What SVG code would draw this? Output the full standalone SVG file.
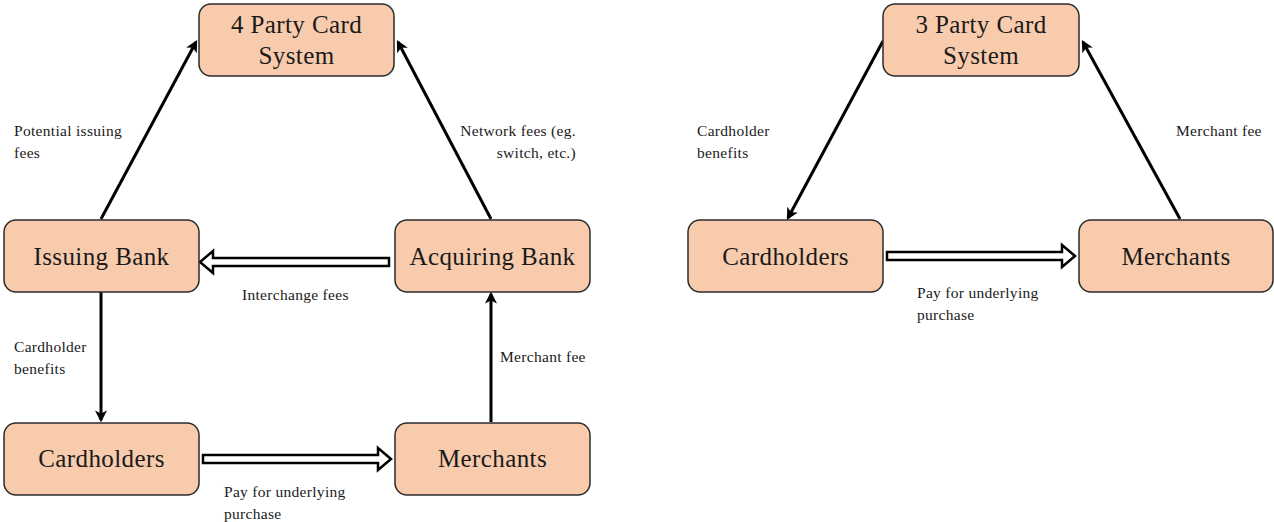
<svg xmlns="http://www.w3.org/2000/svg" width="1274" height="522" viewBox="0 0 1274 522">
<defs>
<style>
.node rect{fill:#F8CBAD;stroke:#2b2b2b;stroke-width:1.5}
.node text{font-family:"Liberation Serif","DejaVu Serif",serif;font-size:25px;letter-spacing:0.4px;fill:#1a1a1a;text-anchor:middle}
.lbl{font-family:"Liberation Serif","DejaVu Serif",serif;font-size:15.5px;letter-spacing:0.3px;fill:#1a1a1a}
.line{stroke:#000;stroke-width:3;fill:none;marker-end:url(#ah)}
.block{fill:#fff;stroke:#000;stroke-width:2.5;stroke-linejoin:miter}
</style>
<marker id="ah" markerWidth="4" markerHeight="4" refX="3.2" refY="2" orient="auto" markerUnits="strokeWidth">
<path d="M0,0 L4,2 L0,4 L1,2 Z" fill="#000"/>
</marker>
</defs>
<rect width="1274" height="522" fill="#fff"/>
<g id="connectors">
<line class="line" x1="101" y1="219" x2="196" y2="42"/>
<line class="line" x1="491" y1="219" x2="398" y2="42"/>
<line class="line" x1="101" y1="292" x2="101" y2="420"/>
<line class="line" x1="491" y1="422" x2="491" y2="294"/>
<path class="block" d="M389,258 L213,258 L213,251 L200,262 L213,273 L213,266 L389,266 Z"/>
<path class="block" d="M203,455 L378,455 L378,448 L391,459 L378,470 L378,463 L203,463 Z"/>
<line class="line" x1="883" y1="41" x2="788" y2="218"/>
<line class="line" x1="1180" y1="219" x2="1083" y2="42"/>
<path class="block" d="M887,252 L1062,252 L1062,245 L1075,256 L1062,267 L1062,260 L887,260 Z"/>
</g>
<g id="party4" class="node"><rect x="199" y="4" width="195" height="72" rx="12"/><text x="296.5" y="33">4 Party Card</text><text x="296.5" y="64">System</text></g>
<g id="issuing" class="node"><rect x="4" y="220" width="195" height="72" rx="12"/><text x="101.5" y="265">Issuing Bank</text></g>
<g id="acquiring" class="node"><rect x="395" y="220" width="195" height="72" rx="12"/><text x="492.5" y="265">Acquiring Bank</text></g>
<g id="cardholders4" class="node"><rect x="4" y="423" width="195" height="72" rx="12"/><text x="101.5" y="467">Cardholders</text></g>
<g id="merchants4" class="node"><rect x="395" y="423" width="195" height="72" rx="12"/><text x="492.5" y="467">Merchants</text></g>
<g id="party3" class="node"><rect x="883" y="4" width="196" height="72" rx="12"/><text x="981" y="33">3 Party Card</text><text x="981" y="64">System</text></g>
<g id="cardholders3" class="node"><rect x="688" y="220" width="195" height="72" rx="12"/><text x="785.5" y="265">Cardholders</text></g>
<g id="merchants3" class="node"><rect x="1079" y="220" width="194" height="72" rx="12"/><text x="1176" y="265">Merchants</text></g>
<g id="labels">
<text class="lbl" x="14" y="136">Potential issuing</text>
<text class="lbl" x="14" y="158">fees</text>
<text class="lbl" x="576" y="136" text-anchor="end">Network  fees (eg.</text>
<text class="lbl" x="576" y="158" text-anchor="end">switch, etc.)</text>
<text class="lbl" x="242" y="300">Interchange fees</text>
<text class="lbl" x="14" y="352">Cardholder</text>
<text class="lbl" x="14" y="374">benefits</text>
<text class="lbl" x="500" y="362">Merchant fee</text>
<text class="lbl" x="224" y="497">Pay for underlying</text>
<text class="lbl" x="224" y="519">purchase</text>
<text class="lbl" x="697" y="136">Cardholder</text>
<text class="lbl" x="697" y="158">benefits</text>
<text class="lbl" x="1176" y="136">Merchant fee</text>
<text class="lbl" x="917" y="298">Pay for underlying</text>
<text class="lbl" x="917" y="320">purchase</text>
</g>
</svg>
